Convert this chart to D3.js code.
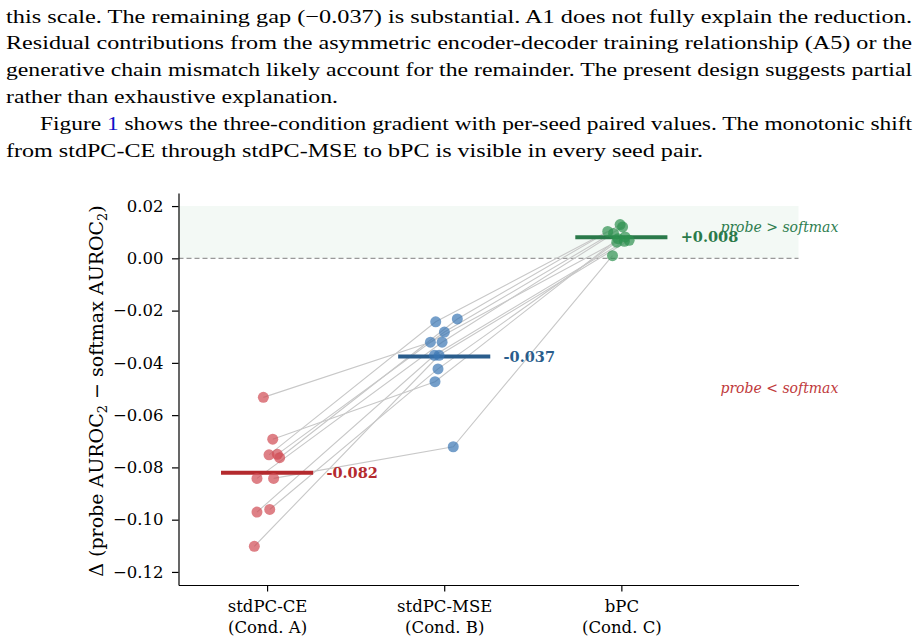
<!DOCTYPE html>
<html>
<head>
<meta charset="utf-8">
<script src="https://cdn.jsdelivr.net/npm/d3@7"></script>
<style>
  body { margin: 0; background: #fff; }
  svg { display: block; }
</style>
</head>
<body>
<script>
// paragraph above the figure
const paragraphLines = [
    'this scale. The remaining gap (\u22120.037) is substantial. A1 does not fully explain the reduction.',
    'Residual contributions from the asymmetric encoder-decoder training relationship (A5) or the',
    'generative chain mismatch likely account for the remainder. The present design suggests partial',
    'rather than exhaustive explanation.',
    'Figure 1 shows the three-condition gradient with per-seed paired values. The monotonic shift',
    'from stdPC-CE through stdPC-MSE to bPC is visible in every seed pair.'
];

const conditions = ['stdPC-CE', 'stdPC-MSE', 'bPC'];
const conditionNotes = ['(Cond. A)', '(Cond. B)', '(Cond. C)'];

// per-seed values, index = seed
const ceValues  = [-0.0532, -0.0692, -0.0752, -0.0750, -0.0763, -0.0842, -0.0842, -0.0971, -0.0961, -0.1102];
const mseValues = [-0.0321, -0.0472, -0.0243, -0.0282, -0.0232, -0.0321, -0.0721, -0.0371, -0.0423, -0.0371];
const bpcValues = [0.0082, 0.0075, 0.0103, 0.0120, 0.0129, 0.0095, 0.0010, 0.0065, 0.0062, 0.0069];

// horizontal jitter, in category units
const ceJitter  = [-0.021, 0.032, 0.011, 0.058, 0.071, -0.057, 0.037, -0.057, 0.015, -0.072];
const mseJitter = [-0.078, -0.052, -0.048, 0.001, 0.074, -0.012, 0.051, -0.055, -0.035, -0.029];
const bpcJitter = [0.021, -0.019, -0.077, 0.007, -0.007, -0.044, -0.050, 0.017, -0.026, 0.044];

const meanLabels = ['-0.082', '-0.037', '+0.008'];
const yTicks = [0.02, 0.00, -0.02, -0.04, -0.06, -0.08, -0.10, -0.12];

const width = 919;
const height = 643;
const serif = 'DejaVu Serif';

const pointColors = ['#d04a52', '#3a76b4', '#2e9150'];
const meanColors = ['#b42a2e', '#2a5d8c', '#2a7a4a'];

const series = [ceValues, mseValues, bpcValues];
const jitters = [ceJitter, mseJitter, bpcJitter];

const svg = d3.select('body')
    .append('svg')
    .attr('width', width)
    .attr('height', height);

// text paragraph
const para = svg.append('g')
    .attr('font-family', 'Liberation Serif')
    .attr('font-size', 19)
    .attr('fill', '#000');

const lineStarts = [6, 6, 6, 6, 40, 6];
const lineEnds = [912, 912, 912, 338, 912, 703];
paragraphLines.forEach((t, i) => {
    const txt = para.append('text')
        .attr('x', lineStarts[i])
        .attr('y', 22.5 + i * 26.8)
        .attr('textLength', lineEnds[i] - lineStarts[i])
        .attr('lengthAdjust', 'spacingAndGlyphs');
    if (i === 4) {
        txt.append('tspan').text('Figure ');
        txt.append('tspan').attr('fill', '#1010c8').text('1');
        txt.append('tspan').text(t.slice(8));
    } else {
        txt.text(t);
    }
});

const xScale = d3.scaleLinear()
    .domain([-0.5, 3.0])
    .range([178.5, 798.5]);

const yScale = d3.scaleLinear()
    .domain([-0.125, 0.025])
    .range([585, 193]);

// shaded band probe > softmax
svg.append('rect')
    .attr('x', xScale(-0.5))
    .attr('y', yScale(0.02))
    .attr('width', xScale(3.0) - xScale(-0.5))
    .attr('height', yScale(0) - yScale(0.02))
    .attr('fill', '#f3f9f5');

svg.append('line')
    .attr('x1', xScale(-0.5))
    .attr('x2', xScale(3.0))
    .attr('y1', yScale(0))
    .attr('y2', yScale(0))
    .attr('stroke', '#999')
    .attr('stroke-width', 1.2)
    .attr('stroke-dasharray', '5,3');

// paired lines
const seeds = d3.range(ceValues.length);
const lineGen = d3.line()
    .x((d) => xScale(d[0]))
    .y((d) => yScale(d[1]));

svg.append('g')
    .selectAll('path')
    .data(seeds)
    .enter()
    .append('path')
    .attr('d', (i) => lineGen(series.map((s, c) => [c + jitters[c][i], s[i]])))
    .attr('fill', 'none')
    .attr('stroke', '#c8c8c8')
    .attr('stroke-width', 1.1);

// mean bars
series.forEach((s, c) => {
    const m = d3.mean(s);
    svg.append('line')
        .attr('x1', xScale(c - 0.26))
        .attr('x2', xScale(c + 0.26))
        .attr('y1', yScale(m))
        .attr('y2', yScale(m))
        .attr('stroke', meanColors[c])
        .attr('stroke-width', 4);
});

// points
series.forEach((s, c) => {
    svg.append('g')
        .selectAll('circle')
        .data(s)
        .enter()
        .append('circle')
        .attr('cx', (d, i) => xScale(c + jitters[c][i]))
        .attr('cy', (d) => yScale(d))
        .attr('r', 5.5)
        .attr('fill', pointColors[c])
        .attr('fill-opacity', 0.7);
});

// mean labels
series.forEach((s, c) => {
    svg.append('text')
        .attr('x', xScale(c + 0.335))
        .attr('y', yScale(d3.mean(s)))
        .attr('dy', '0.35em')
        .attr('font-family', serif)
        .attr('font-weight', 'bold')
        .attr('font-size', 14.5)
        .attr('fill', meanColors[c])
        .text(meanLabels[c]);
});

// region notes
svg.append('text')
    .attr('x', xScale(3.225))
    .attr('y', yScale(0.012))
    .attr('dy', '0.35em')
    .attr('text-anchor', 'end')
    .attr('font-family', serif)
    .attr('font-style', 'italic')
    .attr('font-size', 14)
    .attr('fill', '#2e7d4f')
    .text('probe > softmax');

svg.append('text')
    .attr('x', xScale(3.225))
    .attr('y', yScale(-0.0497))
    .attr('dy', '0.35em')
    .attr('text-anchor', 'end')
    .attr('font-family', serif)
    .attr('font-style', 'italic')
    .attr('font-size', 14)
    .attr('fill', '#c0393b')
    .text('probe < softmax');

// axes
const yAxis = d3.axisLeft(yScale)
    .tickValues(yTicks)
    .tickFormat(d3.format('.2f'))
    .tickSize(6.5)
    .tickSizeOuter(0)
    .tickPadding(8.5);

const xAxis = d3.axisBottom(xScale)
    .tickValues([0, 1, 2])
    .tickFormat('')
    .tickSize(6.5)
    .tickSizeOuter(0);

const gy = svg.append('g')
    .attr('transform', 'translate(' + xScale(-0.5) + ',0)')
    .call(yAxis);

const gx = svg.append('g')
    .attr('transform', 'translate(0,' + yScale(-0.125) + ')')
    .call(xAxis);

[gx, gy].forEach((g) => {
    g.selectAll('path, line').attr('stroke', '#000').attr('stroke-width', 1.2);
    g.selectAll('text')
        .attr('font-family', serif)
        .attr('font-size', 16.5)
        .attr('fill', '#000');
});

gx.selectAll('.tick').each(function (d) {
    const t = d3.select(this).select('text')
        .attr('y', 0)
        .attr('dy', null);
    t.append('tspan').attr('x', 0).attr('y', 27).text(conditions[d]);
    t.append('tspan').attr('x', 0).attr('y', 48).text(conditionNotes[d]);
});

// y label
const yLabel = svg.append('text')
    .attr('transform', 'translate(103,' + ((yScale(0.025) + yScale(-0.125)) / 2 + 2) + ') rotate(-90)')
    .attr('text-anchor', 'middle')
    .attr('font-family', serif)
    .attr('font-size', 19)
    .attr('fill', '#000');
yLabel.append('tspan').text('\u0394 (probe AUROC');
yLabel.append('tspan').attr('font-size', 13).attr('dy', 4).text('2');
yLabel.append('tspan').attr('dy', -4).text(' \u2212 softmax AUROC');
yLabel.append('tspan').attr('font-size', 13).attr('dy', 4).text('2');
yLabel.append('tspan').attr('dy', -4).text(')');
</script>
</body>
</html>
